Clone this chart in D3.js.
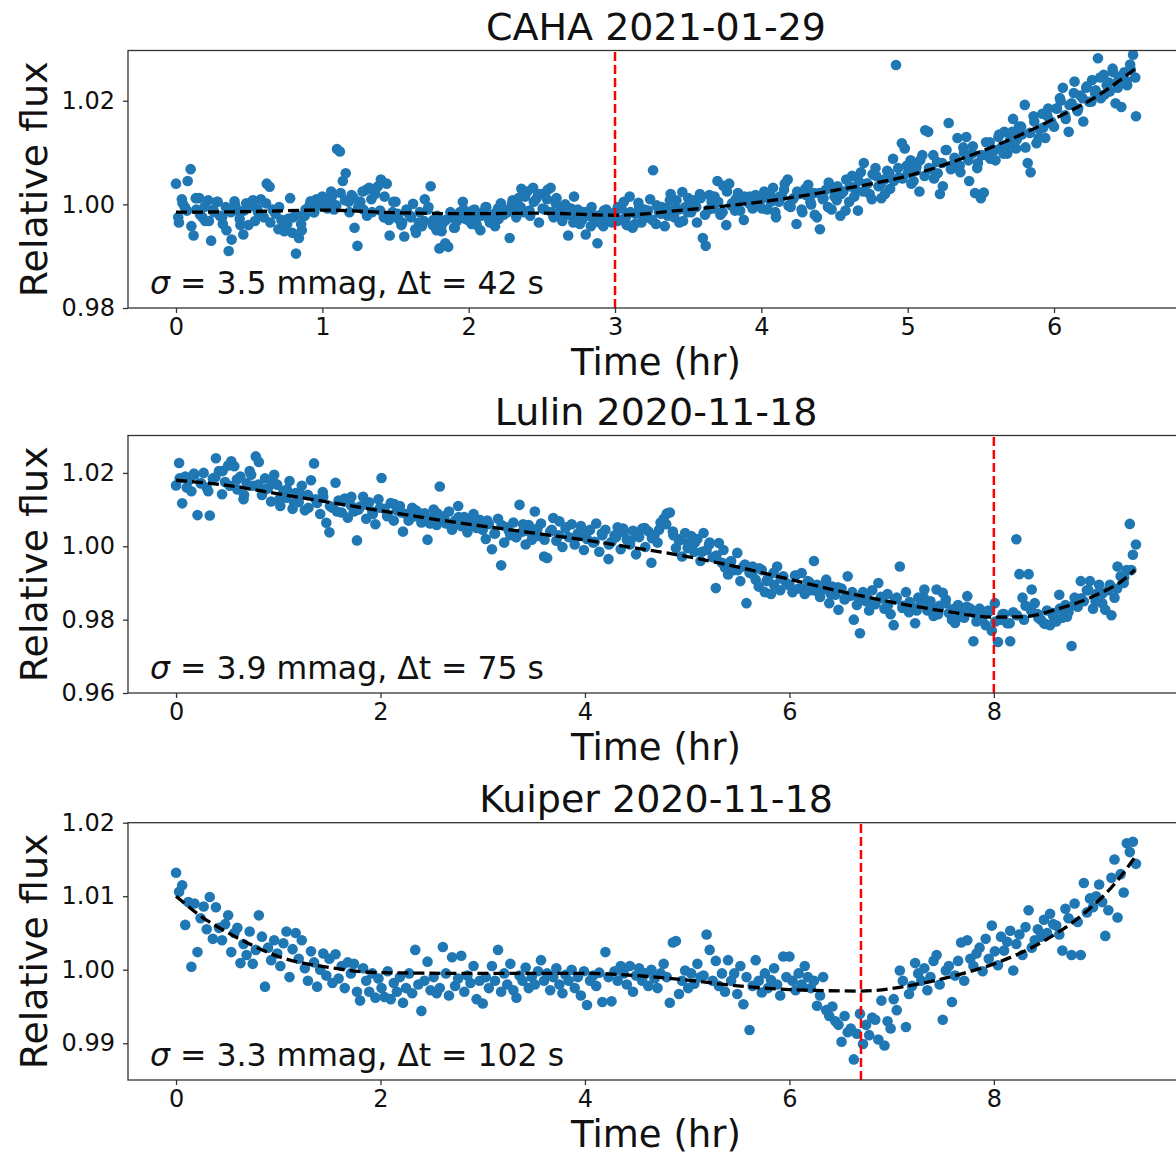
<!DOCTYPE html>
<html><head><meta charset="utf-8">
<script src="https://cdn.jsdelivr.net/npm/d3@7"></script>
<style>body{margin:0;background:#fff}</style>
</head><body>
<svg id="chart" width="1176" height="1156"></svg>
<script>
// ---------------- DATA ----------------
const titles = ["CAHA 2021-01-29", "Lulin 2020-11-18", "Kuiper 2020-11-18"];
const notes = [" = 3.5 mmag, \u0394t = 42 s", " = 3.9 mmag, \u0394t = 75 s", " = 3.3 mmag, \u0394t = 102 s"];

// each flux list is sampled from a start time (hr) at a fixed step (hr)
const cahaStart = 0, cahaStep = 0.02;
const cahaStartB = 0.015, cahaStepB = 0.03;
const lulinStart = 0, lulinStep = 0.03;
const lulinStartB = 0.035, lulinStepB = 0.07;
const kuiperStart = 0, kuiperStep = 0.03;

const cahaFlux = [
1.0040,0.9965,1.0010,0.9995,1.0045,1.0068,0.9940,0.9990,1.0012,0.9975,0.9968,1.0008,0.9930,0.9985,1.0005,0.9978,0.9962,0.9995,0.9910,0.9932,1.0006,0.9988,0.9960,0.9942,1.0002,
0.9995,1.0003,0.9968,0.9985,1.0010,0.9975,1.0040,1.0034,0.9990,0.9982,0.9952,0.9970,0.9948,0.9962,1.0012,0.9975,0.9905,0.9935,0.9950,0.9978,0.9992,1.0006,0.9985,1.0010,0.9998,
1.0015,0.9995,1.0008,1.0025,0.9990,1.0107,1.0102,1.0045,1.0060,1.0005,1.0018,0.9955,0.9920,1.0005,0.9990,1.0028,1.0032,0.9985,1.0020,1.0035,1.0048,0.9975,1.0040,0.9940,0.9985,
1.0005,0.9972,0.9960,0.9938,0.9985,0.9978,1.0001,0.9945,0.9965,0.9958,1.0010,0.9990,1.0035,0.9970,0.9950,0.9915,0.9962,0.9925,0.9918,0.9975,0.9955,0.9968,0.9985,1.0005,0.9972,
0.9980,0.9962,0.9990,0.9975,0.9950,0.9985,0.9995,0.9970,0.9978,0.9958,0.9992,1.0002,0.9980,0.9988,0.9935,1.0008,0.9995,1.0012,1.0030,0.9985,1.0025,0.9978,1.0032,1.0010,0.9965,
1.0020,0.9990,1.0028,1.0032,0.9975,1.0012,0.9985,0.9968,1.0000,0.9940,0.9992,1.0015,0.9975,0.9962,0.9985,0.9942,0.9978,0.9995,0.9968,0.9925,0.9980,0.9958,0.9990,0.9972,0.9965,
0.9985,0.9995,0.9970,1.0005,0.9960,1.0015,0.9955,0.9982,1.0003,0.9965,0.9990,0.9975,1.0010,1.0066,0.9962,0.9985,0.9995,0.9958,0.9978,1.0020,0.9990,1.0008,0.9965,1.0024,0.9995,
1.0012,0.9985,1.0008,0.9965,1.0020,0.9935,0.9920,0.9990,1.0005,1.0015,1.0045,0.9980,1.0036,0.9960,1.0040,1.0002,0.9988,1.0022,1.0010,0.9970,1.0008,1.0015,0.9992,1.0018,1.0004,
1.0010,1.0025,0.9990,1.0018,1.0032,0.9975,1.0005,1.0015,1.0040,1.0048,0.9995,1.0012,0.9962,1.0020,0.9985,1.0030,1.0038,1.0000,1.0022,0.9975,0.9952,1.0010,1.0028,1.0042,0.9990,
1.0015,1.0035,0.9978,1.0025,1.0048,1.0005,1.0055,1.0030,0.9988,1.0062,1.0080,1.0040,1.0020,1.0058,1.0070,1.0035,1.0012,1.0048,1.0065,1.0030,1.0088,1.0269,1.0052,1.0118,1.0108,
1.0060,1.0085,1.0045,1.0072,1.0025,1.0095,1.0143,1.0140,1.0068,1.0050,1.0082,1.0020,1.0035,1.0105,1.0157,1.0075,1.0090,1.0128,1.0062,1.0110,1.0130,1.0045,1.0098,1.0022,1.0080,
1.0012,1.0023,1.0095,1.0120,1.0105,1.0085,1.0130,1.0110,1.0140,1.0098,1.0125,1.0165,1.0108,1.0150,1.0135,1.0192,1.0080,1.0062,1.0170,1.0118,1.0145,1.0175,1.0128,1.0185,1.0160,
1.0150,1.0185,1.0205,1.0225,1.0165,1.0140,1.0195,1.0237,1.0180,1.0210,1.0160,1.0225,1.0198,1.0240,1.0215,1.0282,1.0205,1.0250,1.0230,1.0218,1.0262,1.0195,1.0240,1.0188,1.0255,1.0230,1.0270,1.0289,1.0170
];
const cahaFluxB = [
0.9975,1.0002,0.9988,0.9958,1.0012,0.9980,0.9995,0.9968,0.9990,1.0005,0.9975,0.9950,0.9985,0.9998,0.9972,0.9988,0.9960,1.0008,0.9992,0.9978,1.0002,0.9965,0.9985,0.9995,0.9958,0.9972,0.9945,0.9980,0.9962,0.9990,1.0000,0.9985,1.0008,
1.0002,0.9992,1.0015,0.9998,1.0022,1.0008,0.9985,1.0012,0.9995,1.0025,0.9978,1.0010,1.0030,0.9988,1.0015,0.9970,1.0005,0.9982,0.9965,0.9990,0.9975,0.9952,0.9985,0.9968,0.9995,0.9960,0.9978,0.9948,0.9970,0.9985,0.9955,0.9975,0.9990,
0.9970,0.9988,0.9960,0.9978,0.9995,0.9965,0.9982,0.9972,0.9990,0.9985,1.0000,0.9975,0.9995,1.0015,0.9988,1.0005,1.0020,0.9992,1.0010,0.9985,1.0002,0.9975,0.9995,0.9980,0.9965,0.9990,0.9970,0.9985,0.9958,0.9978,0.9965,0.9988,0.9972,
0.9980,0.9968,0.9992,0.9975,0.9985,0.9962,0.9995,0.9978,0.9988,0.9970,0.9998,0.9982,0.9992,1.0008,0.9975,0.9990,0.9968,0.9985,1.0002,0.9995,1.0012,0.9980,1.0018,0.9992,1.0005,0.9985,1.0025,0.9998,1.0010,0.9988,1.0015,1.0002,0.9995,
1.0008,0.9992,1.0020,1.0005,0.9985,1.0015,1.0028,0.9998,1.0010,1.0025,0.9990,1.0018,1.0005,0.9980,1.0022,1.0012,0.9995,1.0030,1.0008,1.0020,0.9988,1.0035,1.0015,1.0045,1.0025,1.0040,1.0010,1.0055,1.0038,1.0020,1.0060,1.0045,1.0070,
1.0050,1.0075,1.0040,1.0065,1.0085,1.0055,1.0070,1.0095,1.0060,1.0080,1.0105,1.0068,1.0088,1.0075,1.0100,1.0085,1.0112,1.0070,1.0095,1.0120,1.0088,1.0105,1.0135,1.0098,1.0115,1.0140,1.0125,1.0150,1.0110,1.0138,1.0160,1.0128,1.0148,
1.0170,1.0155,1.0185,1.0200,1.0172,1.0192,1.0215,1.0185,1.0205,1.0228,1.0198,1.0220,1.0245,1.0212,1.0235,1.0255,1.0225,1.0248,1.0238,1.0260,1.0245
];

const lulinFlux = [
1.0166,1.0227,1.0117,1.0190,1.0178,1.0150,1.0195,1.0085,1.0172,1.0200,1.0160,1.0084,1.0185,1.0240,1.0205,1.0142,1.0175,1.0220,1.0232,1.0218,
1.0155,1.0190,1.0128,1.0172,1.0205,1.0165,1.0245,1.0230,1.0140,1.0185,1.0158,1.0122,1.0195,1.0168,1.0110,1.0150,1.0132,1.0178,1.0102,1.0145,
1.0120,1.0165,1.0098,1.0140,1.0180,1.0226,1.0118,1.0088,1.0135,1.0064,1.0038,1.0105,1.0173,1.0125,1.0092,1.0130,1.0078,1.0112,1.0095,1.0016,
1.0108,1.0135,1.0075,1.0120,1.0095,1.0060,1.0128,1.0186,1.0102,1.0085,1.0118,1.0070,1.0098,1.0110,1.0040,1.0088,1.0072,1.0105,1.0082,1.0092,
1.0065,1.0090,1.0018,1.0075,1.0100,1.0058,1.0163,1.0082,1.0062,1.0095,1.0045,1.0070,1.0110,1.0055,1.0080,1.0038,1.0068,1.0088,1.0050,1.0072,
1.0045,1.0020,1.0060,0.9992,1.0035,1.0075,0.9948,1.0010,1.0052,1.0030,1.0065,1.0025,1.0113,1.0040,1.0005,1.0058,1.0018,1.0095,1.0028,1.0062,
0.9972,0.9968,1.0040,1.0077,1.0015,1.0068,0.9998,1.0050,1.0025,1.0060,1.0005,1.0035,1.0055,0.9990,1.0020,1.0045,1.0010,1.0062,0.9985,1.0030,
1.0045,0.9965,1.0012,1.0030,1.0052,0.9992,1.0038,1.0018,1.0005,1.0042,0.9978,1.0025,1.0048,0.9998,1.0041,0.9955,1.0030,1.0010,1.0065,1.0075,
1.0089,1.0092,1.0040,0.9995,1.0015,0.9972,1.0036,1.0008,1.0028,0.9985,1.0020,0.9960,1.0036,0.9990,1.0010,0.9970,0.9886,1.0009,0.9955,0.9942,
0.9923,0.9960,0.9935,0.9982,0.9905,0.9945,0.9845,0.9928,0.9945,0.9909,0.9890,0.9935,0.9875,0.9912,0.9870,0.9895,0.9945,0.9880,0.9918,0.9900,
0.9895,0.9875,0.9920,0.9885,0.9927,0.9870,0.9905,0.9880,0.9960,0.9895,0.9862,0.9882,0.9909,0.9845,0.9890,0.9868,0.9827,0.9885,0.9855,0.9918,
0.9865,0.9800,0.9840,0.9763,0.9875,0.9850,0.9825,0.9880,0.9842,0.9900,0.9858,0.9830,0.9870,0.9815,0.9785,0.9860,0.9945,0.9838,0.9875,0.9820,
0.9835,0.9790,0.9860,0.9845,0.9882,0.9825,0.9850,0.9810,0.9882,0.9838,0.9873,0.9855,0.9818,0.9800,0.9791,0.9840,0.9820,0.9805,0.9864,0.9830,
0.9741,0.9795,0.9830,0.9808,0.9785,0.9822,0.9770,0.9845,0.9739,0.9800,0.9815,0.9790,0.9741,0.9820,1.0019,0.9924,0.9860,0.9838,0.9924,0.9882,
0.9845,0.9815,0.9800,0.9790,0.9825,0.9785,0.9810,0.9795,0.9868,0.9805,0.9840,0.9820,0.9728,0.9860,0.9835,0.9905,0.9850,0.9880,0.9905,0.9830,
0.9870,0.9895,0.9845,0.9827,0.9880,0.9812,0.9860,0.9945,0.9918,0.9900,0.9935,1.0061,0.9977,1.0005
];
const lulinFluxB = [
1.0185,1.0160,1.0198,1.0172,1.0150,1.0188,1.0205,1.0165,1.0182,1.0140,1.0195,1.0168,1.0155,1.0178,
1.0130,1.0155,1.0118,1.0140,1.0105,1.0128,1.0148,1.0110,1.0095,1.0122,1.0135,1.0100,1.0115,1.0088,
1.0105,1.0082,1.0115,1.0092,1.0070,1.0098,1.0085,1.0062,1.0090,1.0075,1.0052,1.0080,1.0065,1.0058,
1.0050,1.0070,1.0035,1.0058,1.0042,1.0025,1.0060,1.0038,1.0048,1.0018,1.0045,1.0030,1.0052,1.0022,
1.0028,1.0040,1.0012,1.0035,1.0005,1.0025,1.0048,1.0015,1.0032,1.0050,1.0022,1.0045,1.0060,1.0030,
1.0020,0.9995,1.0010,0.9985,1.0005,0.9975,0.9990,0.9958,0.9935,0.9950,0.9925,0.9940,0.9905,0.9928,
0.9912,0.9895,0.9920,0.9885,0.9902,0.9878,0.9895,0.9870,0.9888,0.9860,0.9875,0.9852,0.9868,0.9845,
0.9862,0.9840,0.9855,0.9832,0.9848,0.9825,0.9860,0.9838,0.9815,0.9845,0.9828,0.9808,0.9835,0.9818,
0.9805,0.9825,0.9795,0.9815,0.9790,0.9812,0.9800,0.9825,0.9805,0.9788,0.9818,0.9830,0.9808,0.9840,
0.9858,0.9880,0.9850,0.9872,0.9895,0.9885,0.9915,0.9935
];

const kuiperFlux = [
1.0132,1.0106,1.0115,1.0061,1.0092,1.0004,1.0090,1.0024,1.0070,1.0086,1.0055,1.0099,1.0042,1.0085,1.0057,1.0040,1.0062,1.0074,1.0024,1.0050,
1.0057,1.0009,1.0035,1.0020,1.0052,1.0008,1.0027,1.0074,1.0045,0.9977,1.0030,1.0013,1.0040,1.0022,1.0005,1.0036,1.0052,0.9990,1.0028,1.0050,
1.0015,1.0040,1.0002,0.9985,1.0025,1.0010,0.9977,1.0000,1.0022,0.9992,1.0015,0.9982,1.0021,0.9988,1.0005,0.9975,1.0010,0.9995,1.0008,0.9970,
0.9958,1.0002,0.9985,0.9970,0.9995,0.9962,0.9988,0.9975,0.9963,0.9998,0.9960,0.9982,0.9970,0.9990,0.9955,0.9975,0.9995,0.9968,1.0027,0.9980,
0.9944,0.9985,1.0011,0.9972,0.9990,0.9968,0.9975,1.0031,0.9995,0.9965,1.0017,0.9978,0.9988,1.0019,0.9970,0.9992,0.9982,1.0005,0.9960,0.9985,
0.9954,0.9990,0.9975,1.0005,0.9985,1.0027,0.9970,0.9995,0.9980,1.0008,0.9972,0.9962,0.9992,0.9985,1.0003,0.9975,0.9990,0.9980,0.9998,1.0013,
0.9985,0.9995,0.9972,0.9990,1.0002,0.9980,0.9968,0.9993,0.9985,1.0000,0.9975,0.9990,0.9965,0.9998,0.9952,0.9985,0.9992,0.9978,0.9996,0.9956,
1.0024,0.9990,0.9957,0.9998,0.9985,1.0005,0.9995,0.9980,1.0005,0.9970,0.9992,1.0002,0.9985,0.9995,0.9978,1.0000,0.9988,0.9975,0.9995,1.0008,
0.9990,0.9955,1.0037,1.0039,0.9967,0.9985,0.9999,0.9975,0.9995,0.9981,1.0008,0.9990,0.9992,1.0048,1.0027,0.9985,1.0012,0.9978,0.9995,0.9970,
1.0013,0.9985,0.9995,0.9967,1.0005,0.9953,0.9990,0.9918,0.9978,1.0013,0.9985,0.9969,0.9995,0.9975,0.9986,1.0002,0.9980,0.9965,1.0018,0.9990,
1.0018,0.9985,0.9972,0.9995,0.9980,1.0005,0.9990,0.9975,0.9985,0.9951,0.9965,0.9990,0.9945,0.9937,0.9950,0.9930,0.9925,0.9902,0.9937,0.9915,
0.9920,0.9878,0.9913,0.9940,0.9899,0.9925,0.9911,0.9935,0.9932,0.9905,0.9958,0.9897,0.9930,0.9920,0.9960,0.9945,0.9999,0.9985,0.9922,0.9967,
0.9978,1.0009,0.9995,0.9985,1.0002,0.9972,0.9990,1.0012,1.0020,0.9980,0.9932,0.9999,1.0005,0.9956,0.9992,1.0012,1.0037,0.9985,1.0040,1.0015,
1.0005,1.0022,1.0030,0.9998,1.0042,1.0015,1.0060,1.0025,1.0006,1.0045,1.0026,1.0038,1.0053,0.9999,1.0035,1.0048,1.0020,1.0058,1.0081,1.0030,
1.0040,1.0055,1.0045,1.0068,1.0050,1.0076,1.0062,1.0060,1.0048,1.0026,1.0083,1.0070,1.0020,1.0090,1.0065,1.0020,1.0118,1.0078,1.0097,1.0085,
1.0100,1.0116,1.0092,1.0046,1.0081,1.0125,1.0150,1.0071,1.0130,1.0105,1.0172,1.0160,1.0174,1.0144
];

// trend (fit) curves: [time hr, flux]
const cahaFit = [[0,0.9985],[0.5,0.9986],[1.0,0.9989],[1.5,0.9984],[2.0,0.9982],[2.5,0.9983],[3.0,0.9979],[3.5,0.9990],[4.0,1.0005],[4.5,1.0027],[5.0,1.0055],[5.5,1.0102],[6.0,1.0165],[6.3,1.0210],[6.56,1.0263]];
const lulinFit = [[0,1.0180],[0.5,1.0166],[1.0,1.0143],[1.5,1.0120],[2.0,1.0097],[2.5,1.0075],[3.0,1.0055],[3.5,1.0036],[4.0,1.0017],[4.5,0.9995],[5.0,0.9972],[5.5,0.9943],[6.0,0.9910],[6.5,0.9877],[7.0,0.9848],[7.5,0.9824],[8.0,0.9807],[8.3,0.9808],[8.6,0.9827],[9.0,0.9867],[9.25,0.9905],[9.38,0.9936]];
const kuiperFit = [[0,1.0100],[0.25,1.0072],[0.5,1.0051],[0.75,1.0033],[1.0,1.0018],[1.5,1.0003],[2.0,0.9996],[3.0,0.9995],[4.0,0.9995],[4.5,0.9992],[5.0,0.9986],[5.5,0.9978],[6.0,0.9973],[6.7,0.9971],[7.2,0.9979],[7.7,0.9995],[8.0,1.0008],[8.5,1.0040],[8.86,1.0074],[9.2,1.0120],[9.38,1.0153]];

// vertical event markers (hr)
const eventTimes = [3.0, 8.0, 6.7];

// ticks
const cahaXTicks = [0,1,2,3,4,5,6];
const longXTicks = [0,2,4,6,8];
const cahaYTicks = [0.98,1.00,1.02];
const lulinYTicks = [0.96,0.98,1.00,1.02];
const kuiperYTicks = [0.99,1.00,1.01,1.02];

// ---------------- DRAW ----------------
const FONT = "DejaVu Sans, Verdana, sans-serif";
const svg = d3.select("#chart");
svg.append("rect").attr("width",1176).attr("height",1156).attr("fill","#fff");

function samples(flux, start, step) { return flux.map((f, i) => [start + i*step, f]); }

const left = 128, right = 1184;
const panels = [
  {title:titles[0], note:notes[0],
   pts:[...samples(cahaFlux, cahaStart, cahaStep), ...samples(cahaFluxB, cahaStartB, cahaStepB)],
   fit:cahaFit, ev:eventTimes[0],
   xd:[-0.328,6.888], yd:[0.98,1.0297], top:50.5, bottom:308, xt:cahaXTicks, yt:cahaYTicks},
  {title:titles[1], note:notes[1],
   pts:[...samples(lulinFlux, lulinStart, lulinStep), ...samples(lulinFluxB, lulinStartB, lulinStepB)],
   fit:lulinFit, ev:eventTimes[1],
   xd:[-0.47,9.86], yd:[0.96,1.0302], top:435.5, bottom:693, xt:longXTicks, yt:lulinYTicks},
  {title:titles[2], note:notes[2],
   pts:samples(kuiperFlux, kuiperStart, kuiperStep),
   fit:kuiperFit, ev:eventTimes[2],
   xd:[-0.47,9.86], yd:[0.985,1.02], top:822.7, bottom:1080, xt:longXTicks, yt:kuiperYTicks}
];

panels.forEach((p, k) => {
  const x = d3.scaleLinear().domain(p.xd).range([left, right]);
  const y = d3.scaleLinear().domain(p.yd).range([p.bottom, p.top]);
  const g = svg.append("g");
  const cid = "clip" + k;
  svg.append("clipPath").attr("id", cid).append("rect")
    .attr("x", left).attr("y", p.top).attr("width", right-left).attr("height", p.bottom-p.top);

  const plot = g.append("g").attr("clip-path", `url(#${cid})`);
  plot.append("g").selectAll("circle").data(p.pts).join("circle")
    .attr("cx", d => x(d[0])).attr("cy", d => y(d[1])).attr("r", 5.3)
    .attr("fill", "#1f77b4");

  plot.append("path").datum(p.fit)
    .attr("d", d3.line().x(d => x(d[0])).y(d => y(d[1])).curve(d3.curveMonotoneX))
    .attr("fill","none").attr("stroke","#000").attr("stroke-width",3.3).attr("stroke-dasharray","11,5");

  plot.append("line").attr("x1", x(p.ev)).attr("x2", x(p.ev)).attr("y1", p.bottom).attr("y2", p.top)
    .attr("stroke","#ff0000").attr("stroke-width",2.5).attr("stroke-dasharray","9,4");

  g.append("rect").attr("x", left).attr("y", p.top).attr("width", right-left).attr("height", p.bottom-p.top)
    .attr("fill","none").attr("stroke","#333").attr("stroke-width",1.3);

  const ax = g.append("g").attr("transform", `translate(0,${p.bottom})`)
    .call(d3.axisBottom(x).tickValues(p.xt).tickFormat(d3.format("d")).tickSize(5).tickPadding(4.5));
  ax.select(".domain").remove();
  ax.attr("font-size", 24).attr("font-family", FONT);
  ax.selectAll("line").attr("stroke","#333").attr("stroke-width",1.3);
  ax.selectAll("text").attr("fill","#111");

  const ay = g.append("g").attr("transform", `translate(${left},0)`)
    .call(d3.axisLeft(y).tickValues(p.yt).tickFormat(d3.format(".2f")).tickSize(5).tickPadding(8));
  ay.select(".domain").remove();
  ay.attr("font-size", 24).attr("font-family", FONT);
  ay.selectAll("line").attr("stroke","#333").attr("stroke-width",1.3);
  ay.selectAll("text").attr("fill","#111");

  const cx = (left + right) / 2;
  g.append("text").attr("x", cx).attr("y", p.top - 10.5).attr("text-anchor","middle")
    .attr("font-size", 38).attr("font-family", FONT).attr("fill","#111").text(p.title);
  g.append("text").attr("x", cx).attr("y", p.bottom + 67.2).attr("text-anchor","middle")
    .attr("font-size", 37).attr("font-family", FONT).attr("fill","#111").text("Time (hr)");
  g.append("text").attr("transform", `translate(47,${(p.top+p.bottom)/2}) rotate(-90)`)
    .attr("text-anchor","middle").attr("font-size", 38).attr("font-family", FONT).attr("fill","#111")
    .text("Relative flux");
  const nt = g.append("text").attr("x", 150).attr("y", p.bottom - 14)
    .attr("font-size", 31.5).attr("font-family", FONT).attr("fill","#111");
  nt.append("tspan").attr("font-style","italic").text("\u03c3");
  nt.append("tspan").text(p.note);
});
</script>
</body></html>
